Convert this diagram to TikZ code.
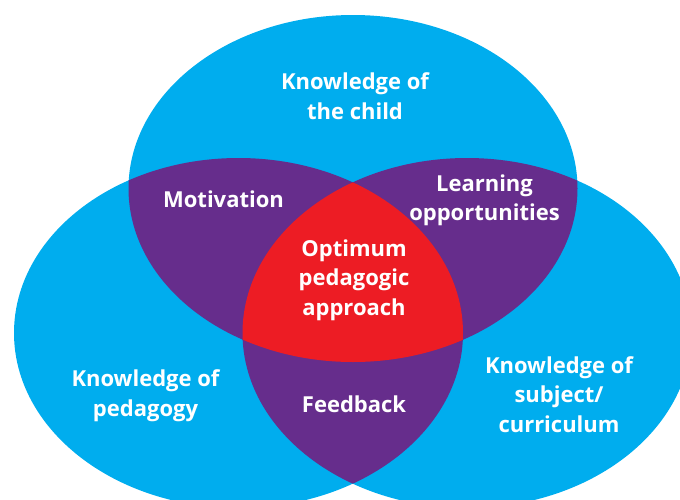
\documentclass[tikz,border=0pt]{standalone}
\usepackage{fontspec}
\setmainfont{Open Sans}
\definecolor{vblue}{HTML}{00ADEE}
\definecolor{vpurple}{HTML}{662D8C}
\definecolor{vred}{HTML}{ED1C24}
\begin{document}
\begin{tikzpicture}[x=1pt,y=-1pt,
  lbl/.style={text=white,font=\bfseries\fontsize{22}{29.5}\selectfont,align=center,anchor=base,inner sep=0pt}]
\path[use as bounding box] (0,0) rectangle (680,499);
% three blue ellipses
\fill[vblue] (353,188.5) ellipse [x radius=224.5pt, y radius=173.5pt];
\fill[vblue] (238.5,333) ellipse [x radius=224.5pt, y radius=175pt];
\fill[vblue] (467,333) ellipse [x radius=224.5pt, y radius=175pt];
% pairwise overlaps
\begin{scope}
  \clip (353,188.5) ellipse [x radius=224.5pt, y radius=173.5pt];
  \fill[vpurple] (238.5,333) ellipse [x radius=224.5pt, y radius=175pt];
  \fill[vpurple] (467,333) ellipse [x radius=224.5pt, y radius=175pt];
\end{scope}
\begin{scope}
  \clip (238.5,333) ellipse [x radius=224.5pt, y radius=175pt];
  \fill[vpurple] (467,333) ellipse [x radius=224.5pt, y radius=175pt];
\end{scope}
% triple overlap
\begin{scope}
  \clip (353,188.5) ellipse [x radius=224.5pt, y radius=173.5pt];
  \clip (238.5,333) ellipse [x radius=224.5pt, y radius=175pt];
  \fill[vred] (467,333) ellipse [x radius=224.5pt, y radius=175pt];
\end{scope}
% labels (base anchor = baseline of the last line)
\node[lbl] (child) at (355,119) {Knowledge of\\the child};
\node[lbl] (motiv) at (223.5,207) {Motivation};
\node[lbl] (learn) at (484.5,220.5) {Learning\\opportunities};
\node[lbl] (opt) at (354,315) {Optimum\\pedagogic\\approach};
\node[lbl] (ped) at (145.5,416) {Knowledge of\\pedagogy};
\node[lbl] (feed) at (354,412) {Feedback};
\node[lbl] (subj) at (559,432) {Knowledge of\\subject/\\curriculum};
\end{tikzpicture}
\end{document}
